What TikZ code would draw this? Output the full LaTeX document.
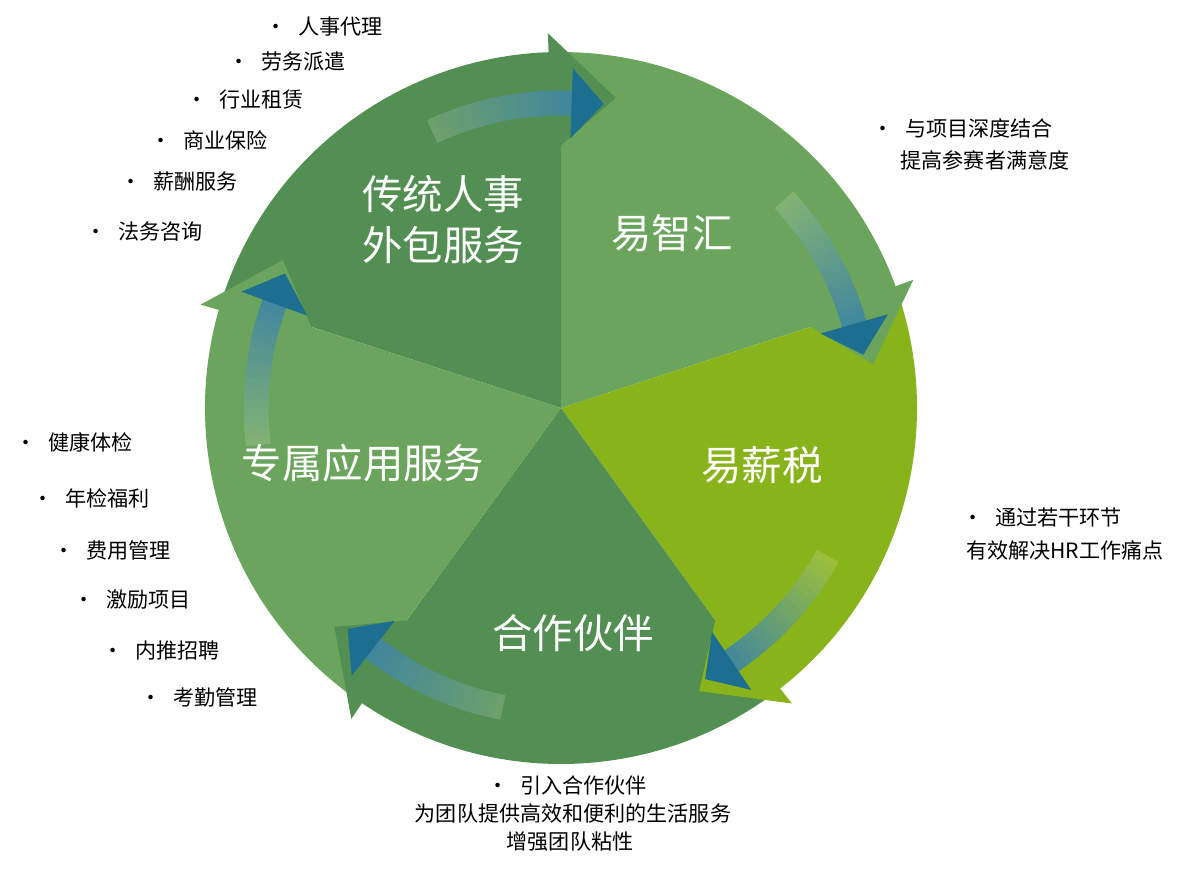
\documentclass[tikz,border=0pt]{standalone}
\usepackage{fontspec}
\setmainfont{Noto Sans CJK SC}
\usetikzlibrary{calc}
\definecolor{darkgr}{HTML}{538F52}
\definecolor{lightgr}{HTML}{6BA45C}
\definecolor{yellowgr}{HTML}{88B31A}
\definecolor{tipblue}{HTML}{1C6F90}
\newcommand{\blt}[1]{\makebox[0.66cm][l]{•}#1}
\begin{document}
\begin{tikzpicture}[x=0.02cm,y=0.02cm]
  \tikzset{
    big/.style={text=white,font=\fontsize{23}{29}\selectfont,align=center},
    item/.style={anchor=west,inner sep=0pt,font=\fontsize{12}{14}\selectfont},
    note/.style={inner sep=0pt,font=\fontsize{12}{14}\selectfont}
  }
  \useasboundingbox (0,0) rectangle (1190,-883);
  \coordinate (C) at (561,-408);

  % sectors: start angle, end angle, colour
  \foreach \a/\b/\c in {90/162/darkgr, 18/90/lightgr, -54/18/yellowgr, -126/-54/darkgr, 162/234/lightgr}
    \fill[\c] (C) -- ++(\a:356) arc[start angle=\a,end angle=\b,radius=7.12cm] -- cycle;

  % protruding arrow points
  \foreach \a/\c in {90/darkgr, 18/lightgr, -54/yellowgr, -126/darkgr, 162/lightgr}
    \fill[\c] ($(C)+(\a+2:255)$) -- ($(C)+(\a+2:375)$) -- ($(C)+(\a-10:315)$) -- cycle;

  % gradient arrows
  \foreach \a/\c in {90/darkgr, 18/lightgr, -54/yellowgr, -126/darkgr, 162/lightgr} {
    \foreach \i in {0,...,19}
      \draw[line width=0.5cm,color=tipblue!\the\numexpr\i*5\relax!\c!85!white]
        ($(C)+(\a+25-\i*1.4:305)$) arc[start angle=\a+25-\i*1.4,end angle=\a+25-\i*1.4-1.5,radius=6.1cm];
    \fill[tipblue] ($(C)+(\a-2:270)$) -- ($(C)+(\a-2:340)$) -- ($(C)+(\a-8:307)$) -- cycle;
  }

  % labels
  \node[big] (trad) at (443,-220) {传统人事\\外包服务};
  \node[big] (yzh) at (672,-233) {易智汇};
  \node[big] (yxs) at (762,-465) {易薪税};
  \node[big] (hzhb) at (573,-633) {合作伙伴};
  \node[big] (zsyy) at (363,-463) {专属应用服务};

  % bullet lists
  \node[item] (t1) at (265,-27) {\blt{人事代理}};
  \node[item] (t2) at (228,-62) {\blt{劳务派遣}};
  \node[item] (t3) at (186,-100) {\blt{行业租赁}};
  \node[item] (t4) at (150,-140) {\blt{商业保险}};
  \node[item] (t5) at (120,-182) {\blt{薪酬服务}};
  \node[item] (t6) at (85,-232) {\blt{法务咨询}};

  \node[item] (r1) at (872,-128) {\blt{与项目深度结合}};
  \node[note] (r2) at (985,-160) {提高参赛者满意度};
  \node[item] (r3) at (962,-517) {\blt{通过若干环节}};
  \node[note] (r4) at (1065,-550) {有效解决HR工作痛点};

  \node[item] (l1) at (15,-442) {\blt{健康体检}};
  \node[item] (l2) at (32,-498) {\blt{年检福利}};
  \node[item] (l3) at (53,-550) {\blt{费用管理}};
  \node[item] (l4) at (73,-600) {\blt{激励项目}};
  \node[item] (l5) at (102,-650) {\blt{内推招聘}};
  \node[item] (l6) at (140,-697) {\blt{考勤管理}};

  \node[item] (b1) at (487,-785) {\blt{引入合作伙伴}};
  \node[note] (b2) at (573,-813) {为团队提供高效和便利的生活服务};
  \node[note] (b3) at (570,-842) {增强团队粘性};
\end{tikzpicture}
\end{document}
